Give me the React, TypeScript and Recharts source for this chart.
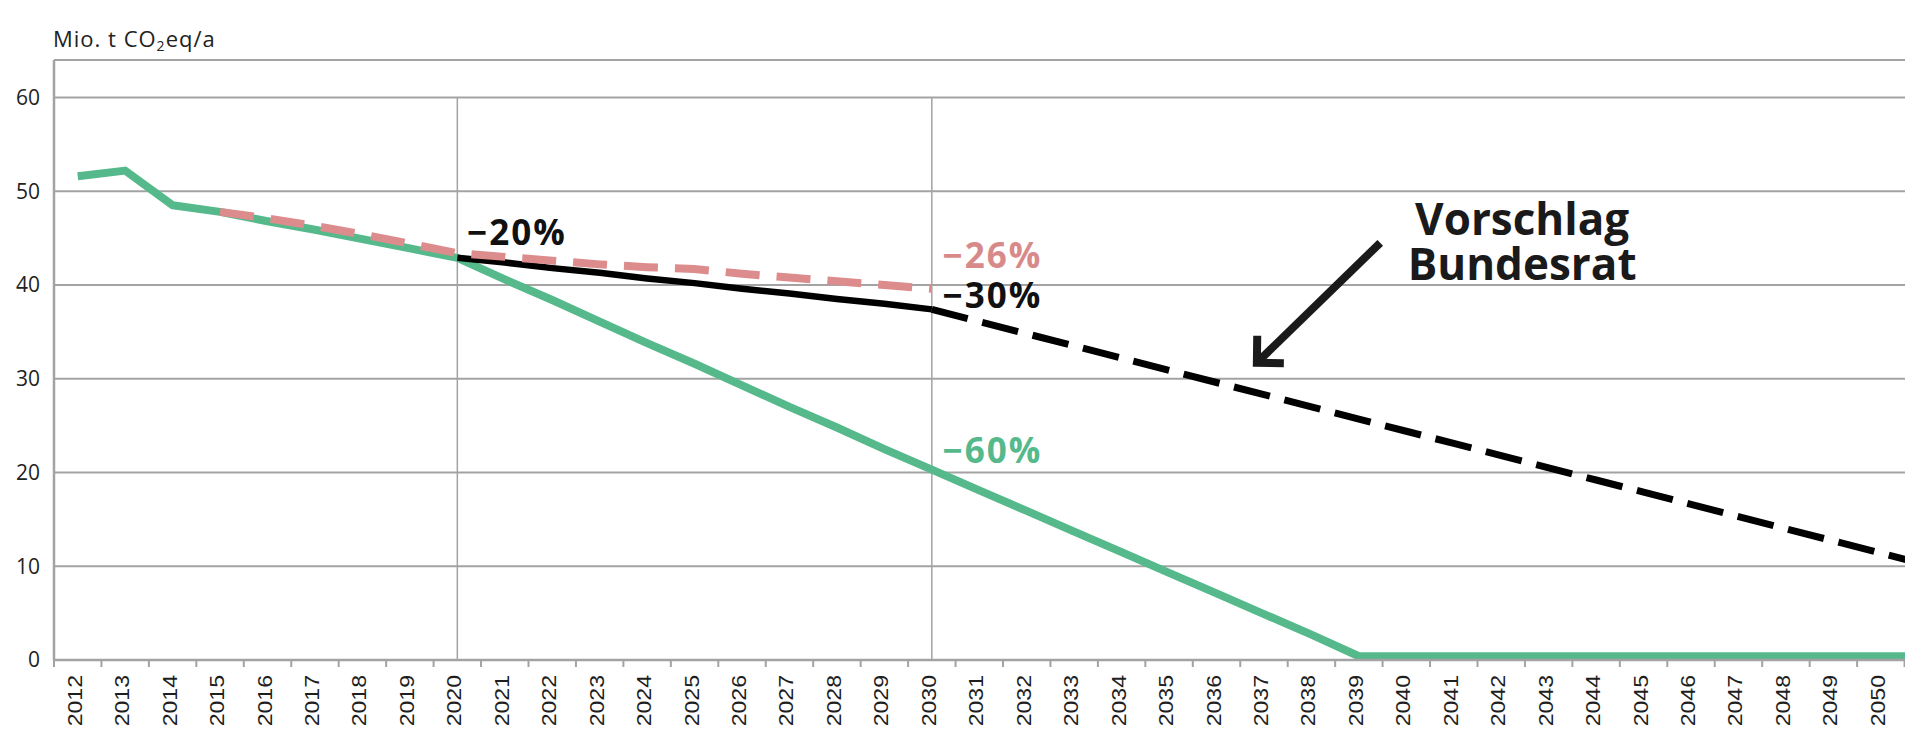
import React from "react";
import { LineChart, Line, XAxis, YAxis, CartesianGrid, ReferenceLine, ReferenceDot } from "recharts";

// ---- data ----
const years = [
  2012, 2013, 2014, 2015, 2016, 2017, 2018, 2019, 2020, 2021,
  2022, 2023, 2024, 2025, 2026, 2027, 2028, 2029, 2030, 2031,
  2032, 2033, 2034, 2035, 2036, 2037, 2038, 2039, 2040, 2041,
  2042, 2043, 2044, 2045, 2046, 2047, 2048, 2049, 2050, 2051,
];

// green: history + -60% path to net zero
const path60 = [
  51.6, 52.2, 48.5, 47.8, 46.8, 45.9, 44.9, 43.9, 42.9, 40.6,
  38.4, 36.1, 33.8, 31.6, 29.3, 27.0, 24.8, 22.5, 20.3, 18.1,
  15.9, 13.7, 11.5, 9.3, 7.1, 4.9, 2.7, 0.4, 0.4, 0.4,
  0.4, 0.4, 0.4, 0.4, 0.4, 0.4, 0.4, 0.4, 0.4, 0.4,
];

// pink dashed: -26% target
const target26 = [
  null, null, null, 47.8, 47.1, 46.3, 45.4, 44.4, 43.4, 43.0,
  42.6, 42.2, 41.9, 41.7, 41.2, 40.8, 40.4, 40.0, 39.6, null,
  null, null, null, null, null, null, null, null, null, null,
  null, null, null, null, null, null, null, null, null, null,
];

// black solid: Bundesrat until 2030 (-30%)
const bundesrat2030 = [
  null, null, null, null, null, null, null, null, 42.9, 42.4,
  41.8, 41.3, 40.7, 40.2, 39.6, 39.1, 38.5, 38.0, 37.4, null,
  null, null, null, null, null, null, null, null, null, null,
  null, null, null, null, null, null, null, null, null, null,
];

// black dashed: Vorschlag Bundesrat after 2030
const bundesratAfter = [
  null, null, null, null, null, null, null, null, null, null,
  null, null, null, null, null, null, null, null, 37.4, 36.1,
  34.8, 33.5, 32.2, 30.9, 29.6, 28.3, 27.0, 25.7, 24.4, 23.1,
  21.8, 20.5, 19.2, 17.9, 16.6, 15.3, 14.0, 12.7, 11.4, 10.1,
];

const yTicks = [0, 10, 20, 30, 40, 50, 60];
// visible year labels (the chart is cropped right after 2050)
const xTickLabels = [
  2012, 2013, 2014, 2015, 2016, 2017, 2018, 2019, 2020, 2021,
  2022, 2023, 2024, 2025, 2026, 2027, 2028, 2029, 2030, 2031,
  2032, 2033, 2034, 2035, 2036, 2037, 2038, 2039, 2040, 2041,
  2042, 2043, 2044, 2045, 2046, 2047, 2048, 2049, 2050,
];
const referenceYears = [2020, 2030];

const data = years.map((year, i) => ({
  year,
  path60: path60[i],
  target26: target26[i],
  bundesrat2030: bundesrat2030[i],
  bundesratAfter: bundesratAfter[i],
}));

// tick positions: category boundaries and centres
const xTicks: number[] = [];
xTickLabels.forEach((y) => {
  xTicks.push(y - 0.5);
  xTicks.push(y);
});
xTicks.push(xTickLabels[xTickLabels.length - 1] + 0.5);

const at = (arr: (number | null)[], year: number) => arr[years.indexOf(year)] as number;

// annotation anchors (data coordinates)
const pctLabels = [
  { text: "\u221220%", year: 2020, value: at(bundesrat2030, 2020), color: "#111111", dx: 10, dy: -13 },
  { text: "\u221226%", year: 2030, value: at(target26, 2030), color: "#d88a8a", dx: 11, dy: -21 },
  { text: "\u221230%", year: 2030, value: at(bundesrat2030, 2030), color: "#111111", dx: 11, dy: -1.5 },
  { text: "\u221260%", year: 2030, value: at(path60, 2030), color: "#55b98c", dx: 11, dy: -7 },
];
const arrowTail = { x: 2039.45, y: 44.5 };
const arrowTip = { x: 2036.85, y: 31.7 };
const noteAnchor = { x: 2042.44, y: 45.3 };
const noteLines = ["Vorschlag", "Bundesrat"];

const GRID = "#a3a3a3";
const GREEN = "#55b98c";
const PINK = "#dc8c8c";

const XTick = (props: any) => {
  const { x, y, payload } = props;
  const v = payload.value;
  if (!Number.isInteger(v)) {
    return <line x1={x} x2={x} y1={y} y2={y + 7} stroke={GRID} strokeWidth={2} />;
  }
  return (
    <text
      transform={`translate(${x + 4},${y + 15}) rotate(-90) scale(1.1,1)`}
      textAnchor="end"
      fontFamily="'Liberation Sans', Arial, sans-serif"
      fontSize={21}
      fill="#1e1e1e"
    >
      {v}
    </text>
  );
};

const ArrowShape = (props: any) => {
  const { x1, y1, x2, y2 } = props;
  const dx = x1 - x2;
  const dy = y1 - y2;
  const len = Math.hypot(dx, dy) || 1;
  const ux = dx / len;
  const uy = dy / len;
  const rot = (a: number) => [ux * Math.cos(a) - uy * Math.sin(a), ux * Math.sin(a) + uy * Math.cos(a)];
  const [ax, ay] = rot(Math.PI / 4);
  const [bx, by] = rot(-Math.PI / 4);
  const L = 27;
  return (
    <g>
      <line x1={x1} y1={y1} x2={x2 + ux * 3} y2={y2 + uy * 3} stroke="#1a1a1a" strokeWidth={8} />
      <polyline
        points={`${x2 + ax * L},${y2 + ay * L} ${x2},${y2} ${x2 + bx * L},${y2 + by * L}`}
        fill="none"
        stroke="#1a1a1a"
        strokeWidth={8}
        strokeLinejoin="miter"
      />
    </g>
  );
};

const pctShape = (text: string, color: string, dx: number, dy: number) => (p: any) => (
  <text
    x={p.cx + dx}
    y={p.cy + dy}
    fill={color}
    fontFamily="'Open Sans', sans-serif"
    fontWeight={700}
    fontSize={35}
    letterSpacing={2}
  >
    {text}
  </text>
);

const noteShape = (p: any) => (
  <text
    x={p.cx}
    y={p.cy}
    textAnchor="middle"
    fill="#1a1a1a"
    fontFamily="'Open Sans', sans-serif"
    fontWeight={700}
    fontSize={44}
  >
    <tspan x={p.cx} dy={0}>{noteLines[0]}</tspan>
    <tspan x={p.cx} dy={45}>{noteLines[1]}</tspan>
  </text>
);

export default function App() {
  return (
    <div
      style={{
        position: "absolute",
        left: 0,
        top: 0,
        width: 1905,
        height: 732,
        overflow: "hidden",
        background: "#ffffff",
      }}
    >
      <svg width={400} height={60} style={{ position: "absolute", left: 0, top: 0 }}>
        <text x={53} y={47} fontFamily="'Open Sans', sans-serif" fontSize={22} fill="#222" letterSpacing={1}>
          Mio. t CO
          <tspan fontSize={14} dy={4}>2</tspan>
          <tspan fontSize={22} dy={-4}>eq/a</tspan>
        </text>
      </svg>
      <LineChart
        width={1952}
        height={732}
        data={data}
        margin={{ top: 60, right: 0, bottom: 0, left: 0 }}
        style={{ position: "absolute", left: 0, top: 0 }}
      >
        <CartesianGrid horizontal vertical={false} stroke={GRID} strokeWidth={2} />
        <XAxis
          dataKey="year"
          type="number"
          domain={[2011.5, 2051.5]}
          ticks={xTicks}
          interval={0}
          height={72}
          tickLine={false}
          tickSize={0}
          tickMargin={0}
          axisLine={{ stroke: GRID, strokeWidth: 2.5 }}
          tick={<XTick />}
          allowDataOverflow
        />
        <YAxis
          type="number"
          domain={[0, 64]}
          ticks={yTicks}
          interval={0}
          width={54}
          tickLine={false}
          tickSize={0}
          tickMargin={14}
          axisLine={{ stroke: GRID, strokeWidth: 2.5 }}
          tick={{ fill: "#222", fontSize: 21, fontFamily: "'Open Sans', sans-serif" }}
        />
        {referenceYears.map((yr) => (
          <ReferenceLine
            key={yr}
            segment={[
              { x: yr, y: 0 },
              { x: yr, y: 60 },
            ]}
            stroke={GRID}
            strokeWidth={1.5}
          />
        ))}
        <Line
          dataKey="path60"
          type="linear"
          stroke={GREEN}
          strokeWidth={8}
          dot={false}
          isAnimationActive={false}
          strokeLinejoin="round"
        />
        <Line
          dataKey="bundesrat2030"
          type="linear"
          stroke="#000"
          strokeWidth={6.5}
          dot={false}
          isAnimationActive={false}
        />
        <Line
          dataKey="bundesratAfter"
          type="linear"
          stroke="#000"
          strokeWidth={7}
          strokeDasharray="37 15"
          dot={false}
          isAnimationActive={false}
        />
        <Line
          dataKey="target26"
          type="linear"
          stroke={PINK}
          strokeWidth={8}
          strokeDasharray="34 17"
          dot={false}
          isAnimationActive={false}
        />
        {pctLabels.map((l) => (
          <ReferenceDot
            key={l.text}
            x={l.year}
            y={l.value}
            r={0}
            ifOverflow="visible"
            shape={pctShape(l.text, l.color, l.dx, l.dy)}
          />
        ))}
        <ReferenceLine
          segment={[arrowTail, arrowTip]}
          ifOverflow="visible"
          shape={ArrowShape}
        />
        <ReferenceDot x={noteAnchor.x} y={noteAnchor.y} r={0} ifOverflow="visible" shape={noteShape} />
      </LineChart>
    </div>
  );
}
